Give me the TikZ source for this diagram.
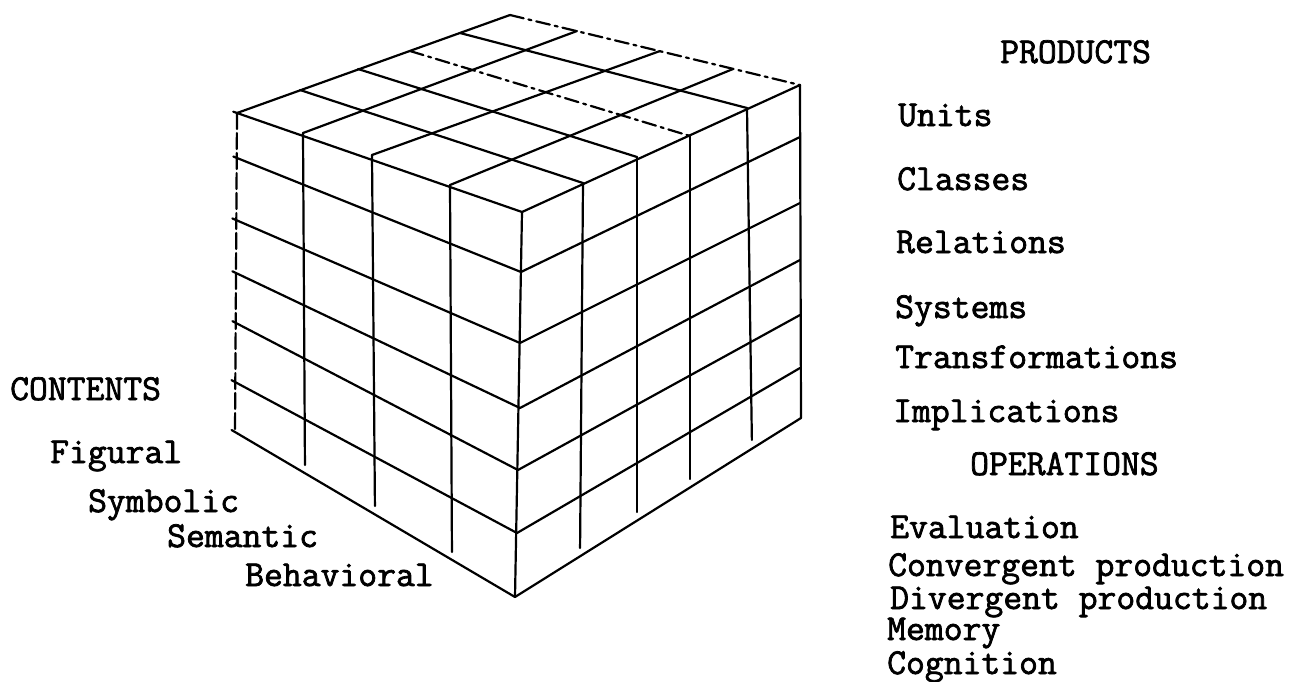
\documentclass[tikz,border=0pt]{standalone}
\usepackage{fontspec}
\newfontfamily\tw[FakeBold=2]{Latin Modern Mono}
\begin{document}
\begin{tikzpicture}[x=1pt,y=-1pt,
  cube/.style={line width=2.2pt, line cap=round, line join=round},
  backedge/.style={cube, dash pattern=on 14pt off 5pt on 3pt off 5pt},
  leftedge/.style={cube, dash pattern=on 16pt off 4pt},
  shortline/.style={cube, shorten >=8pt},
  lbl/.style={anchor=base west, inner sep=0pt, font=\tw\fontsize{36.6}{40}\selectfont}]
\useasboundingbox (0,0) rectangle (1302,681);
% edges of the cube (row points, top to bottom)
\foreach \i/\x/\y in {0/237/113,1/237/158,2/236/220,3/236/273,4/236/323,5/235/382,6/235/432}
  \coordinate (L\i) at (\x,\y);
\foreach \i/\x/\y in {0/522/212,1/521/272,2/520/343,3/520/408,4/518/470,5/517/533,6/515/597}
  \coordinate (F\i) at (\x,\y);
\foreach \i/\x/\y in {0/800/85,1/800/137,2/800/203,3/800/260,4/800/315,5/800/368,6/801/418}
  \coordinate (R\i) at (\x,\y);
\coordinate (B) at (510,15);
% left face column points (top / bottom)
\coordinate (A1) at (303,133); \coordinate (A1b) at (305,473);
\coordinate (A2) at (372,155); \coordinate (A2b) at (375,514);
\coordinate (A3) at (450,185); \coordinate (A3b) at (452,560);
% right face column points (top / bottom)
\coordinate (Q1) at (583,183); \coordinate (Q1b) at (580,556);
\coordinate (Q2) at (637,157); \coordinate (Q2b) at (637,520);
\coordinate (Q3) at (690,136); \coordinate (Q3b) at (690,487);
\coordinate (Q4) at (747,108); \coordinate (Q4b) at (752,448);
% top face points on the back edges
\coordinate (P1) at (300,90); \coordinate (P2) at (358,69);
\coordinate (P3) at (410,51); \coordinate (P4) at (460,33);
\coordinate (C1) at (577,31); \coordinate (C2) at (660,51);
\coordinate (C3) at (733,69);

% left face
\draw[leftedge] (L0) -- (L6);
\foreach \i in {0,...,6} \draw[cube, shorten <=-4pt] (L\i) -- (F\i);
\foreach \k in {1,2,3} \draw[shortline] (A\k) -- (A\k b);
% front edge
\draw[cube] (F0) -- (F6);
% right face
\foreach \i in {0,...,6} \draw[cube] (F\i) -- (R\i);
\draw[cube] (R0) -- (R6);
\foreach \k in {1,2,3,4} \draw[shortline] (Q\k) -- (Q\k b);
% top face
\draw[cube] (L0) -- (B);
\draw[backedge] (B) -- (R0);
\draw[cube] (P1) -- (Q1);
\draw[cube] (P2) -- (Q2);
\draw[backedge] (P3) -- (Q3);
\draw[cube] (P4) -- (Q4);
\foreach \k in {1,2,3} \draw[cube] (A\k) -- (C\k);

% labels
\node[lbl] (contents) at (10,400) {CONTENTS};
\node[lbl] (figural) at (50,463) {Figural};
\node[lbl] (symbolic) at (88,512) {Symbolic};
\node[lbl] (semantic) at (167,547) {Semantic};
\node[lbl] (behavioral) at (245,586) {Behavioral};

\node[lbl] (products) at (1000,63) {PRODUCTS};
\node[lbl] (units) at (898,126) {Units};
\node[lbl] (classes) at (897,190) {Classes};
\node[lbl] (relations) at (896,253) {Relations};
\node[lbl] (systems) at (895,318) {Systems};
\node[lbl] (transf) at (895,368) {Transformations};
\node[lbl] (implic) at (893,422) {Implications};

\node[lbl] (operations) at (970,475) {OPERATIONS};
\node[lbl] (evaluation) at (890,538) {Evaluation};
\node[lbl] (convergent) at (888,576) {Convergent production};
\node[lbl] (divergent) at (890,609) {Divergent production};
\node[lbl] (memory) at (887,640) {Memory};
\node[lbl] (cognition) at (887,674) {Cognition};
\end{tikzpicture}
\end{document}
